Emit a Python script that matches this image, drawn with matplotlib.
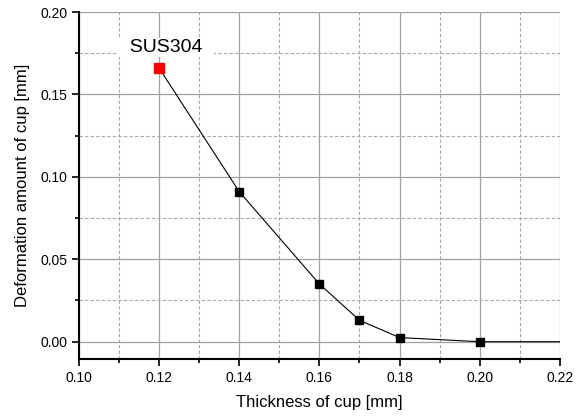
import numpy as np
import matplotlib
matplotlib.use("Agg")
import matplotlib.pyplot as plt
from matplotlib.ticker import MultipleLocator

plt.rcParams['font.family'] = ['Liberation Sans', 'DejaVu Sans']

thickness = [0.12, 0.14, 0.16, 0.17, 0.18, 0.20, 0.22]
deform = [0.166, 0.091, 0.035, 0.013, 0.0025, 0.0, 0.0]

fig = plt.figure(figsize=(5.85, 4.16), dpi=100)
ax = fig.add_axes([0.135, 0.137, 0.822, 0.834])

ax.plot(thickness, deform, color='black', lw=0.8, zorder=3)
ax.plot(thickness[1:5], deform[1:5], 's', color='black', ms=6.3, zorder=4)
ax.plot(thickness[5], deform[5], 's', color='black', ms=5.3, zorder=4)
ax.plot(thickness[0], deform[0], 's', color='red', ms=6.5, zorder=4)

ax.set_xlim(0.10, 0.22)
ax.set_ylim(-0.0105, 0.20)
ax.xaxis.set_major_locator(MultipleLocator(0.02))
ax.xaxis.set_minor_locator(MultipleLocator(0.01))
ax.yaxis.set_major_locator(MultipleLocator(0.05))
ax.yaxis.set_minor_locator(MultipleLocator(0.025))
ax.set_xticks([0.10, 0.12, 0.14, 0.16, 0.18, 0.20, 0.22])
ax.set_xticklabels(['0.10', '0.12', '0.14', '0.16', '0.18', '0.20', '0.22'])
ax.set_yticks([0.0, 0.05, 0.10, 0.15, 0.20])
ax.set_yticklabels(['0.00', '0.05', '0.10', '0.15', '0.20'])

ax.grid(which='major', color='#a0a0a0', lw=0.9, ls='-')
ax.grid(which='minor', color='#a8a8a8', lw=0.8, ls=(0, (3, 2)))
ax.set_axisbelow(True)

for s in ['top', 'right']:
    ax.spines[s].set_visible(False)
for s in ['left', 'bottom']:
    ax.spines[s].set_linewidth(1.5)
ax.tick_params(which='major', direction='out', length=5, width=1.2, labelsize=10)
ax.tick_params(which='minor', direction='out', length=3, width=1.2)

ax.set_xlabel('Thickness of cup [mm]', fontsize=12, labelpad=7)
ax.set_ylabel('Deformation amount of cup [mm]', fontsize=12, labelpad=7)

ax.text(0.1217, 0.1785, '  SUS304  ', fontsize=14, ha='center', va='center',
        bbox=dict(facecolor='white', edgecolor='none', pad=1), zorder=5)

fig.savefig('out.png', dpi=100)
